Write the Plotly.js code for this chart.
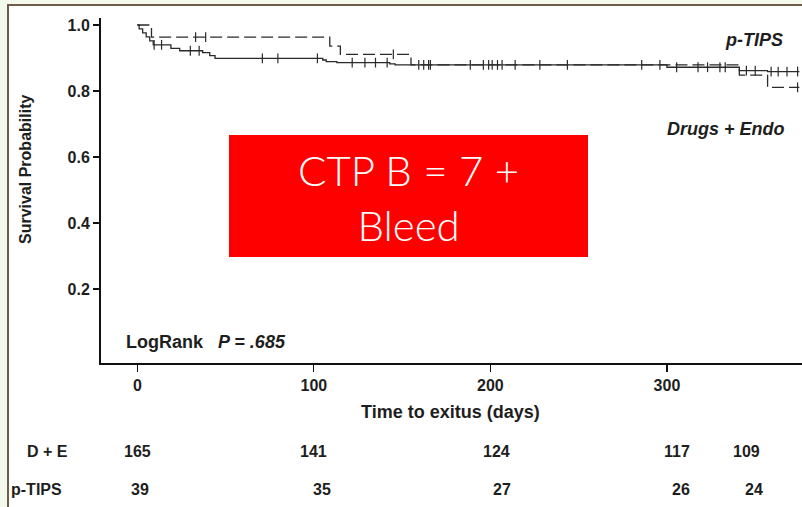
<!DOCTYPE html>
<html>
<head>
<meta charset="utf-8">
<script src="https://cdn.plot.ly/plotly-3.0.1.min.js"></script>
<style>html,body{margin:0;padding:0;background:#f4f9ee;}#chart{width:802px;height:507px;}</style>
</head>
<body>
<div id="chart"></div>
<script>
// ---- data ----
// Drugs + Endo (D + E), solid curve: step times (days) and survival after each step
const deTimes = [0, 1, 3, 5, 7, 9, 19, 24, 37, 41, 44, 105, 107, 113, 143, 146, 300, 341, 357, 375];
const deSurv  = [1.0, 0.988, 0.976, 0.964, 0.952, 0.94, 0.929, 0.922, 0.916, 0.907, 0.899, 0.894, 0.889, 0.886, 0.882, 0.879, 0.872, 0.862, 0.859, 0.859];
const deCensor = [9.5, 13.7, 30, 35, 70.8, 79.6, 102, 121.7, 128.9, 134.9, 141.5, 159.4, 162.2, 165, 166, 188.6, 196, 199, 201, 204, 206.6, 214, 228, 243.6, 285.7, 296, 305.5, 317.6, 323, 330, 333, 345, 350, 359, 363, 368, 374];
// p-TIPS, dashed curve
const ptTimes = [0, 8, 109, 115, 155, 341, 357, 375];
const ptSurv  = [1.0, 0.963, 0.936, 0.911, 0.879, 0.848, 0.811, 0.811];
const ptCensor = [33, 38.7, 145, 374];
// numbers at risk
const riskTimes = [0, 100, 200, 300, 345];
const riskDE = [165, 141, 124, 117, 109];
const riskPT = [39, 35, 27, 26, 24];
const xTicks = [0, 100, 200, 300];
const yTicks = [0.2, 0.4, 0.6, 0.8, 1.0];
const yTickText = ['0.2', '0.4', '0.6', '0.8', '1.0'];

// ---- helpers ----
function stepAt(times, surv, t) {
  let v = surv[0];
  for (let i = 0; i < times.length; i++) { if (times[i] <= t) v = surv[i]; }
  return v;
}
const L = 101, R = 802, T = 18, B = 363;
const px = x => (x - L) / (R - L);
const py = y => (B - y) / (B - T);

const FONT = 'Liberation Sans, Arial, Helvetica, sans-serif';
const INK = '#1e1e1e';

const traces = [
  {x: deTimes, y: deSurv, type: 'scatter', mode: 'lines', line: {shape: 'hv', color: '#2a2a2a', width: 1.3}, hoverinfo: 'skip'},
  {x: ptTimes, y: ptSurv, type: 'scatter', mode: 'lines', line: {shape: 'hv', color: '#2a2a2a', width: 1.3, dash: '12px,5px'}, hoverinfo: 'skip'},
  {x: deCensor, y: deCensor.map(t => stepAt(deTimes, deSurv, t)), type: 'scatter', mode: 'markers',
   marker: {symbol: 'line-ns', size: 7, line: {width: 1.2, color: '#2a2a2a'}}, hoverinfo: 'skip'},
  {x: ptCensor, y: ptCensor.map(t => stepAt(ptTimes, ptSurv, t)), type: 'scatter', mode: 'markers',
   marker: {symbol: 'line-ns', size: 7, line: {width: 1.2, color: '#2a2a2a'}}, hoverinfo: 'skip'}
];

function ann(text, x, y, size, extra) {
  return Object.assign({text: text, xref: 'paper', yref: 'paper', x: px(x), y: py(y), xanchor: 'center', yanchor: 'middle',
    showarrow: false, font: {family: FONT, size: size, color: INK, weight: 'bold'}}, extra || {});
}

const annotations = [
  ann('Survival Probability', 25, 170, 16, {textangle: -90}),
  ann('Time to exitus (days)', 450, 412, 18),
  ann('<i>p-TIPS</i>', 754, 40, 18),
  ann('<i>Drugs + Endo</i>', 726, 129, 18),
  ann('LogRank   <i>P = .685</i>', 124, 342, 18, {xanchor: 'left'}),
  ann('CTP B = 7 +<br>Bleed', 408, 197, 42, {font: {family: 'Lato, Open Sans, sans-serif', size: 42, color: '#ffffff', weight: 300}}),
  ann('D + E', 47, 451, 16),
  ann('p-TIPS', 36, 489, 16)
];
const shiftDE = [0, 0, 6, 10, 0];
const shiftPT = [3, 8, 12, 14, 8];
riskTimes.forEach((t, i) => {
  annotations.push({text: String(riskDE[i]), xref: 'x', yref: 'paper', x: t, y: py(451), xshift: shiftDE[i],
    xanchor: 'center', yanchor: 'middle', showarrow: false, font: {family: FONT, size: 16, color: INK, weight: 'bold'}});
  annotations.push({text: String(riskPT[i]), xref: 'x', yref: 'paper', x: t, y: py(489), xshift: shiftPT[i],
    xanchor: 'center', yanchor: 'middle', showarrow: false, font: {family: FONT, size: 16, color: INK, weight: 'bold'}});
});

const shapes = [
  {type: 'rect', xref: 'paper', yref: 'paper', x0: px(8), x1: px(815), y0: py(5), y1: py(520), layer: 'below',
   fillcolor: '#ffffff', line: {color: '#6e5d48', width: 2}},
  {type: 'rect', xref: 'paper', yref: 'paper', x0: px(229), x1: px(588), y0: py(135), y1: py(257), layer: 'above',
   fillcolor: '#ff0000', line: {width: 0}}
];

const layout = {
  width: 802, height: 507, autosize: false,
  margin: {l: L, r: 802 - R, t: T, b: 507 - B, pad: 0},
  paper_bgcolor: '#f4f9ee', plot_bgcolor: 'rgba(0,0,0,0)',
  showlegend: false,
  font: {family: FONT, color: INK},
  xaxis: {range: [-20.6, 376.5], tickvals: xTicks, ticktext: xTicks.map(String), ticks: 'outside', ticklen: 7, tickwidth: 1.2,
    tickcolor: '#111', showline: true, linecolor: '#111', linewidth: 2, showgrid: false, zeroline: false, fixedrange: true,
    tickfont: {family: FONT, size: 16, color: INK, weight: 'bold'}},
  yaxis: {range: [-0.0242, 1.0212], tickvals: yTicks, ticktext: yTickText, ticks: 'outside', ticklen: 6, tickwidth: 1.2,
    tickcolor: '#111', showline: true, linecolor: '#111', linewidth: 2, showgrid: false, zeroline: false, fixedrange: true,
    tickfont: {family: FONT, size: 16, color: INK, weight: 'bold'}},
  annotations: annotations,
  shapes: shapes
};

Plotly.newPlot('chart', traces, layout, {staticPlot: true, displayModeBar: false});
</script>
</body>
</html>
